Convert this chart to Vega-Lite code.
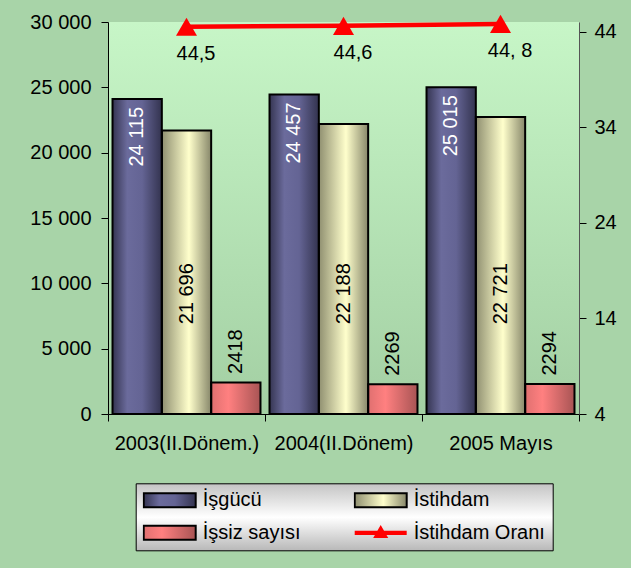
{
  "$schema": "https://vega.github.io/schema/vega-lite/v6.json",
  "width": 471,
  "height": 392,
  "autosize": {"type": "none"},
  "padding": {"left": 108, "top": 22, "right": 52, "bottom": 154},
  "background": "#a8d4a8",
  "config": {
    "font": "Liberation Sans",
    "locale": {"number": {"decimal": ",", "thousands": " ", "grouping": [3], "currency": ["", ""]}},
    "view": {
      "stroke": null,
      "fill": {"gradient": "linear", "x1": 0, "y1": 0, "x2": 0, "y2": 1,
        "stops": [{"offset": 0, "color": "#c7f6c7"}, {"offset": 1, "color": "#a3cfa3"}]}
    },
    "axis": {
      "labelFont": "Liberation Sans", "labelFontSize": 20, "labelColor": "#000000",
      "domainColor": "#000000", "tickColor": "#000000", "tickSize": 7, "grid": false, "title": null
    }
  },
  "datasets": {
    "bars": [
      {"period": "2003(II.Dönem.)", "series": "İşgücü", "value": 24115},
      {"period": "2003(II.Dönem.)", "series": "İstihdam", "value": 21696},
      {"period": "2003(II.Dönem.)", "series": "İşsiz sayısı", "value": 2418},
      {"period": "2004(II.Dönem)", "series": "İşgücü", "value": 24457},
      {"period": "2004(II.Dönem)", "series": "İstihdam", "value": 22188},
      {"period": "2004(II.Dönem)", "series": "İşsiz sayısı", "value": 2269},
      {"period": "2005 Mayıs", "series": "İşgücü", "value": 25015},
      {"period": "2005 Mayıs", "series": "İstihdam", "value": 22721},
      {"period": "2005 Mayıs", "series": "İşsiz sayısı", "value": 2294}
    ],
    "rate": [
      {"period": "2003(II.Dönem.)", "series": "İstihdam Oranı", "rate": 44.5, "label": "44,5"},
      {"period": "2004(II.Dönem)", "series": "İstihdam Oranı", "rate": 44.6, "label": "44,6"},
      {"period": "2005 Mayıs", "series": "İstihdam Oranı", "rate": 44.8, "label": "44, 8"}
    ]
  },
  "resolve": {"scale": {"y": "independent"}},
  "layer": [
    {
      "data": {"name": "bars"},
      "encoding": {
        "x": {"field": "period", "type": "nominal", "sort": ["2003(II.Dönem.)", "2004(II.Dönem)", "2005 Mayıs"],
          "scale": {"paddingInner": 0, "paddingOuter": 0},
          "axis": {"labelAngle": 0, "tickBand": "extent", "labelPadding": 12, "orient": "bottom"}},
        "xOffset": {"field": "series", "type": "nominal", "sort": ["İşgücü", "İstihdam", "İşsiz sayısı"],
          "scale": {"paddingInner": 0, "paddingOuter": 0.0915}},
        "y": {"field": "value", "type": "quantitative", "scale": {"domain": [0, 30000]},
          "axis": {"orient": "left", "values": [0, 5000, 10000, 15000, 20000, 25000, 30000], "format": ",d", "labelPadding": 10}}
      },
      "layer": [
        {
          "mark": {"type": "bar"},
          "encoding": {
            "color": {"field": "series", "type": "nominal",
              "scale": {
                "domain": ["İşgücü", "İstihdam", "İşsiz sayısı", "İstihdam Oranı"],
                "range": [
                  {"expr": "{gradient: 'linear', x1: 0, y1: 0, x2: 1, y2: 0, stops: [{offset: 0, color: '#353552'}, {offset: 0.3, color: '#6b6b9c'}, {offset: 0.6, color: '#646494'}, {offset: 1, color: '#33334f'}]}"},
                  {"expr": "{gradient: 'linear', x1: 0, y1: 0, x2: 1, y2: 0, stops: [{offset: 0, color: '#8f8f70'}, {offset: 0.55, color: '#ffffcc'}, {offset: 1, color: '#87876a'}]}"},
                  {"expr": "{gradient: 'linear', x1: 0, y1: 0, x2: 1, y2: 0, stops: [{offset: 0, color: '#e07070'}, {offset: 0.35, color: '#ff8080'}, {offset: 1, color: '#a85454'}]}"},
                  "#ff0000"
                ]
              },
              "legend": {
                "title": null, "orient": "none", "legendX": 27.7, "legendY": 461.3, "direction": "horizontal", "columns": 2,
                "labelFontSize": 20, "labelColor": "#000000", "labelFont": "Liberation Sans", "labelOffset": 6,
                "symbolSize": 2704, "clipHeight": 20, "rowPadding": 12.5, "columnPadding": 53, "padding": 7,
                "strokeColor": "#000000", "fillColor": "#e6e6e6",
                "encode": {
                  "legend": {"update": {
                    "fill": {"value": {"gradient": "linear", "x1": 0, "y1": 0, "x2": 0, "y2": 1,
                      "stops": [{"offset": 0, "color": "#c4c4c4"}, {"offset": 0.5, "color": "#ffffff"}, {"offset": 1, "color": "#b8b8b8"}]}},
                    "stroke": {"value": "#000000"}, "strokeWidth": {"value": 1}}},
                  "symbols": {"update": {
                    "shape": {"signal": "(datum.value === 'İstihdam Oranı' ? 'M-1,-0.08H1V0.08H-1Z M-0.29,0.2L0,-0.3L0.29,0.2Z' : 'M-1,-0.27H1V0.27H-1Z')"},
                    "stroke": {"signal": "(datum.value === 'İstihdam Oranı' ? 'transparent' : '#000000')"},
                    "strokeWidth": {"value": 2},
                    "opacity": {"value": 1},
                    "size": {"value": 2704}
                  }}
                }
              }
            }
          }
        },
        {
          "mark": {"type": "bar", "fill": "transparent", "stroke": "#000000", "strokeWidth": 2}
        },
        {
          "transform": [{"filter": "datum.series === 'İşgücü'"}],
          "mark": {"type": "text", "angle": 270, "align": "right", "baseline": "middle", "dx": -8, "fontSize": 20, "color": "#ffffff"},
          "encoding": {"text": {"field": "value", "type": "quantitative", "format": ","}}
        },
        {
          "transform": [{"filter": "datum.series === 'İstihdam'"}],
          "mark": {"type": "text", "angle": 270, "align": "center", "baseline": "middle", "fontSize": 20, "color": "#000000"},
          "encoding": {
            "y": {"datum": 9200, "type": "quantitative"},
            "text": {"field": "value", "type": "quantitative", "format": ","}
          }
        },
        {
          "transform": [{"filter": "datum.series === 'İşsiz sayısı'"}],
          "mark": {"type": "text", "angle": 270, "align": "left", "baseline": "middle", "dx": 8.5, "fontSize": 20, "color": "#000000"},
          "encoding": {"text": {"field": "value", "type": "quantitative", "format": "d"}}
        }
      ]
    },
    {
      "data": {"name": "rate"},
      "encoding": {
        "x": {"field": "period", "type": "nominal", "sort": ["2003(II.Dönem.)", "2004(II.Dönem)", "2005 Mayıs"],
          "scale": {"paddingInner": 0, "paddingOuter": 0},
          "axis": {"labelAngle": 0, "tickBand": "extent", "labelPadding": 12, "orient": "bottom"}},
        "y": {"field": "rate", "type": "quantitative", "scale": {"domain": [4, 45], "zero": false},
          "axis": {"orient": "right", "values": [4, 14, 24, 34, 44], "labelPadding": 8, "domainColor": "#555555"}}
      },
      "layer": [
        {
          "mark": {"type": "line", "color": "#ff0000", "strokeWidth": 4.5,
            "point": {"shape": "triangle-up", "size": 440, "filled": true, "color": "#ff0000", "opacity": 1}}
        },
        {
          "mark": {"type": "text", "align": "center", "baseline": "alphabetic", "dx": 9.5, "dy": 33, "fontSize": 20, "color": "#000000"},
          "encoding": {"text": {"field": "label", "type": "nominal"}}
        }
      ]
    }
  ]
}
